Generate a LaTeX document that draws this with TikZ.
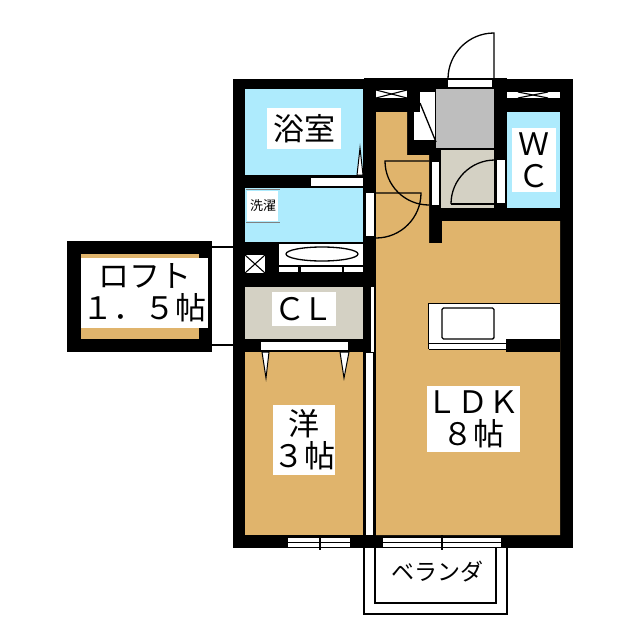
\documentclass[tikz,border=0pt]{standalone}
\usepackage{fontspec}
\setmainfont{Noto Sans CJK JP}
\definecolor{bathblue}{HTML}{AEEBFD}
\definecolor{floortan}{HTML}{E0B46C}
\definecolor{clbeige}{HTML}{D4D1C4}
\definecolor{entrygrey}{HTML}{BEBEBE}
\tikzset{
  hole/.style={fill=white},
  doorline/.style={draw=black,line width=1.3pt},
  thinline/.style={draw=black,line width=1.1pt},
  tag/.style={fill=white,inner sep=0pt,align=center,font=\fontsize{31}{32}\selectfont},
  claw/.style={fill=white,draw=black,line width=1pt},
}
\begin{document}
\begin{tikzpicture}[x=1pt,y=-1pt]
  \useasboundingbox (0,0) rectangle (640,640);
  % walls
  \fill[black] (233,79) rectangle (573,548);
  \fill[black] (67,241) rectangle (212,352);
  % rooms
  \fill[bathblue] (245,89) rectangle (363,175);
  \fill[bathblue] (245,188) rectangle (363,242);
  \fill[bathblue] (507,112) rectangle (560,208);
  \fill[clbeige] (245,287) rectangle (363,339);
  \fill[clbeige] (441,150) rectangle (494,208);
  \fill[entrygrey] (436,89) rectangle (494,148);
  \fill[floortan] (245,352) rectangle (363,535);
  \fill[floortan] (376,112) -- (407,112) -- (407,155) -- (429,155) -- (429,243)
    -- (442,243) -- (442,221) -- (560,221) -- (560,535) -- (376,535) -- cycle;
  \fill[floortan] (81,254) rectangle (199,339);
  % loft ties
  \draw[thinline] (212,247) -- (233,247);
  \draw[thinline] (212,345) -- (233,345);
  % gaps in the walls
  \fill[hole] (311,178) rectangle (363,186);
  \fill[hole] (366,193) rectangle (374,236);
  \fill[hole] (371,287) rectangle (374,352);
  \fill[hole] (366,353) rectangle (373,535);
  \fill[hole] (432,162) rectangle (439,205);
  \fill[hole] (497,160) rectangle (505,203);
  \fill[hole] (448,80) rectangle (492,87);
  \fill[hole] (261,342) rectangle (348,350);
  % upper windows
  \fill[hole] (376,90) rectangle (407,98);
  \draw[thinline] (376,90) -- (407,98);
  \draw[thinline] (376,98) -- (407,90);
  \fill[hole] (507,92) rectangle (560,98);
  \draw[thinline] (518,98) -- (548,92);
  \draw[thinline] (518,92) -- (548,98);
  % lower windows
  \foreach \xa/\xb/\xt in {288/350/320,383/501/442}{
    \fill[hole] (\xa,538) rectangle (\xb,547);
    \draw[thinline] (\xa,542.5) -- (\xb,542.5);
    \draw[thinline] (\xt,535) -- (\xt,550);
  }
  % closet behind entry
  \fill[hole] (420,92) rectangle (435,112);
  \fill[hole] (414,112) rectangle (435,140);
  \draw[doorline] (420,103) -- (436,142);
  % doors
  \draw[doorline] (494,78) -- (494,33) arc[start angle=270,end angle=180,radius=46] -- (448,78);
  \draw[line width=0.8pt] (364,78.5) -- (507,78.5);
  \draw[doorline] (451,204) -- (494,204);
  \draw[doorline] (451,204) arc[start angle=180,end angle=270,radius=44];
  \draw[doorline] (429,161) -- (385,161) arc[start angle=180,end angle=90,radius=44];
  \draw[doorline] (376,193) -- (421,193) arc[start angle=0,end angle=90,radius=45];
  % door swing marks
  \draw[claw] (357,175) -- (360,148) -- (363,175) -- cycle;
  \draw[claw] (262,352) -- (266,378) -- (269,352) -- cycle;
  \draw[claw] (340,352) -- (344,378) -- (349,352) -- cycle;
  % washer
  \fill[hole] (247,191) rectangle (278,221);
  \draw[draw=gray,line width=1pt] (246,189) -- (280,189);
  \draw[draw=gray,line width=1pt] (246,222.5) -- (280,222.5);
  \node[inner sep=0pt,font=\fontsize{13}{13}\selectfont] (washer) at (263,206) {洗濯};
  % bath
  \fill[black] (245,242) rectangle (279,273);
  \fill[hole] (279,244) rectangle (363,265);
  \draw[doorline,fill=white] (322,254) ellipse [x radius=36,y radius=7];
  \fill[hole] (279,267) rectangle (298,272);
  \fill[hole] (301,267) rectangle (342,272);
  \fill[hole] (344,267) rectangle (363,272);
  % duct
  \fill[hole] (245,255) rectangle (265,273);
  \draw[thinline] (245,255) -- (265,273);
  \draw[thinline] (245,273) -- (265,255);
  % kitchen
  \fill[hole] (428,303) rectangle (560,349);
  \draw[thinline] (428.5,349) -- (428.5,303.5) -- (560,303.5);
  \draw[draw=black,line width=1.4pt,rounded corners=1.5pt] (442,308) rectangle (494,339);
  \draw[draw=black,line width=1.5pt] (429,343.5) -- (506,343.5);
  \draw[draw=black,line width=1pt] (429,349) -- (506,349);
  \fill[black] (506,339) rectangle (560,352);
  % balcony
  \draw[thinline] (364,548) -- (364,614) -- (507,614) -- (507,548);
  \draw[thinline] (375,548) -- (375,603) -- (496,603) -- (496,548);
  % labels
  \node[tag,minimum width=74pt,minimum height=41pt] (bath) at (304,128.5) {浴室};
  \node[tag,minimum width=44pt,minimum height=64pt] (wc) at (534,160) {Ｗ\\Ｃ};
  \node[tag,minimum width=64pt,minimum height=34pt] (closet) at (304,309) {Ｃ\hspace{-3pt}Ｌ};
  \node[tag,minimum width=62pt,minimum height=70pt] (west) at (304,440) {洋\\３帖};
  \node[tag,minimum width=90pt,minimum height=66pt] (ldk) at (473,419) {ＬＤＫ\\８帖};
  \node[tag,minimum width=127pt,minimum height=70pt] (loft) at (144.5,293) {ロフト\hspace{6pt}\\１．５帖};
  \node[inner sep=0pt,font=\fontsize{23}{23}\selectfont] (veranda) at (437,572) {ベランダ};
\end{tikzpicture}
\end{document}
